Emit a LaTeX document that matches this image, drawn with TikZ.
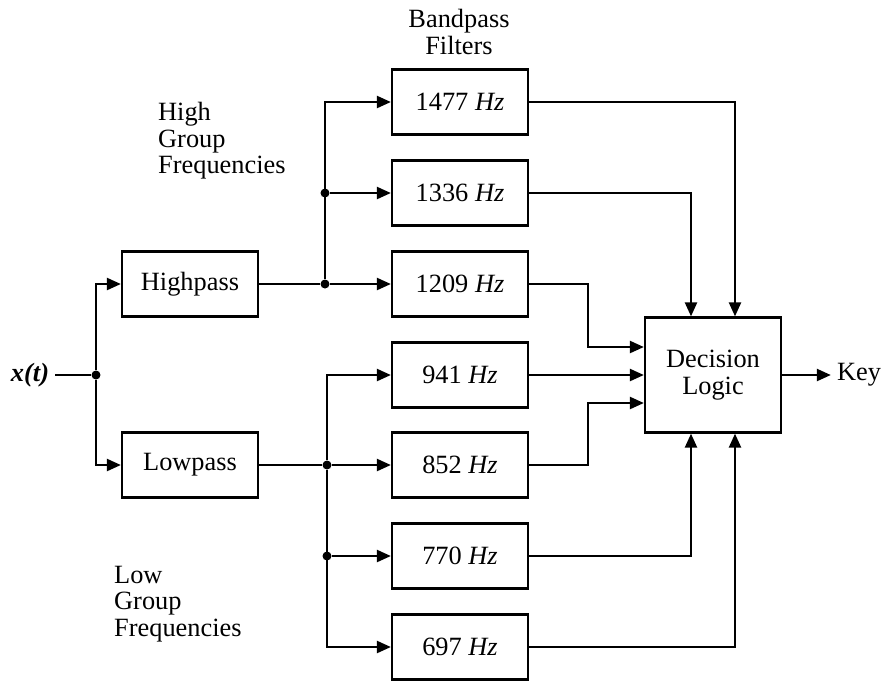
\documentclass[tikz,border=0pt]{standalone}
\usepackage{fontspec}
\setmainfont{Liberation Serif}
\usetikzlibrary{arrows.meta}

\tikzset{
  block/.style={draw, line width=1.3pt, minimum width=2.72cm, minimum height=1.3cm, inner sep=0pt},
  wire/.style={line width=1.3pt},
  arr/.style={wire, -{Triangle[length=0.28cm,width=0.24cm]}},
  dot/.style={circle, fill, inner sep=0pt, minimum size=0.18cm},
}

\begin{document}
\begin{tikzpicture}[x=0.02cm, y=-0.02cm, font=\fontsize{15}{15}\selectfont]
     \useasboundingbox (0,0) rectangle (886,681);
     % input and first split
     \node (xt) at (30,375) {\textbf{\textit{x(t)}}};
     \node[dot] (js) at (96,375) {};
     \node[block] (hp) at (190,284) {Highpass};
     \node[block] (lp) at (190,465) {Lowpass};
     % bandpass filters
     \node[block] (f1477) at (460,102) {1477 \textit{Hz}};
     \node[block] (f1336) at (460,193) {1336 \textit{Hz}};
     \node[block] (f1209) at (460,284) {1209 \textit{Hz}};
     \node[block] (f941) at (460,375) {941 \textit{Hz}};
     \node[block] (f852) at (460,465) {852 \textit{Hz}};
     \node[block] (f770) at (460,556) {770 \textit{Hz}};
     \node[block] (f697) at (460,647) {697 \textit{Hz}};
     \node[block, minimum height=2.3cm, align=center] (dec) at (713,375) {Decision\\Logic};
     \node (key) at (859,375) {Key};
     % labels
     \node[align=center] (bplbl) at (459,32) {Bandpass\\Filters};
     \node[anchor=west, align=left] (hilbl) at (152,141) {High\\Group\\Frequencies};
     \node[anchor=west, align=left] (lolbl) at (108,604) {Low\\Group\\Frequencies};
     % split points
     \node[dot] (jh) at (325,284) {};
     \node[dot] (jh2) at (325,193) {};
     \node[dot] (jl) at (327,465) {};
     \node[dot] (jl2) at (327,556) {};
     % connectors
     \draw[wire] (xt) -- (js);
     \draw[arr] (js) |- (hp.west);
     \draw[arr] (js) |- (lp.west);
     \draw[wire] (hp) -- (jh);
     \draw[arr] (jh) -- (f1209);
     \draw[arr] (jh) |- (f1477.west);
     \draw[arr] (jh2) -- (f1336);
     \draw[wire] (lp) -- (jl);
     \draw[arr] (jl) -- (f852);
     \draw[arr] (jl) |- (f941.west);
     \draw[arr] (jl) |- (f697.west);
     \draw[arr] (jl2) -- (f770);
     \draw[arr] (f1477.east) -| ([xshift=0.44cm]dec.north);
     \draw[arr] (f1336.east) -| ([xshift=-0.44cm]dec.north);
     \draw[arr] (f1209.east) -- ++(59,0) |- ([yshift=0.56cm]dec.west);
     \draw[arr] (f941) -- (dec);
     \draw[arr] (f852.east) -- ++(59,0) |- ([yshift=-0.56cm]dec.west);
     \draw[arr] (f770.east) -| ([xshift=-0.44cm]dec.south);
     \draw[arr] (f697.east) -| ([xshift=0.44cm]dec.south);
     \draw[arr] (dec) -- (key);
\end{tikzpicture}
\end{document}
